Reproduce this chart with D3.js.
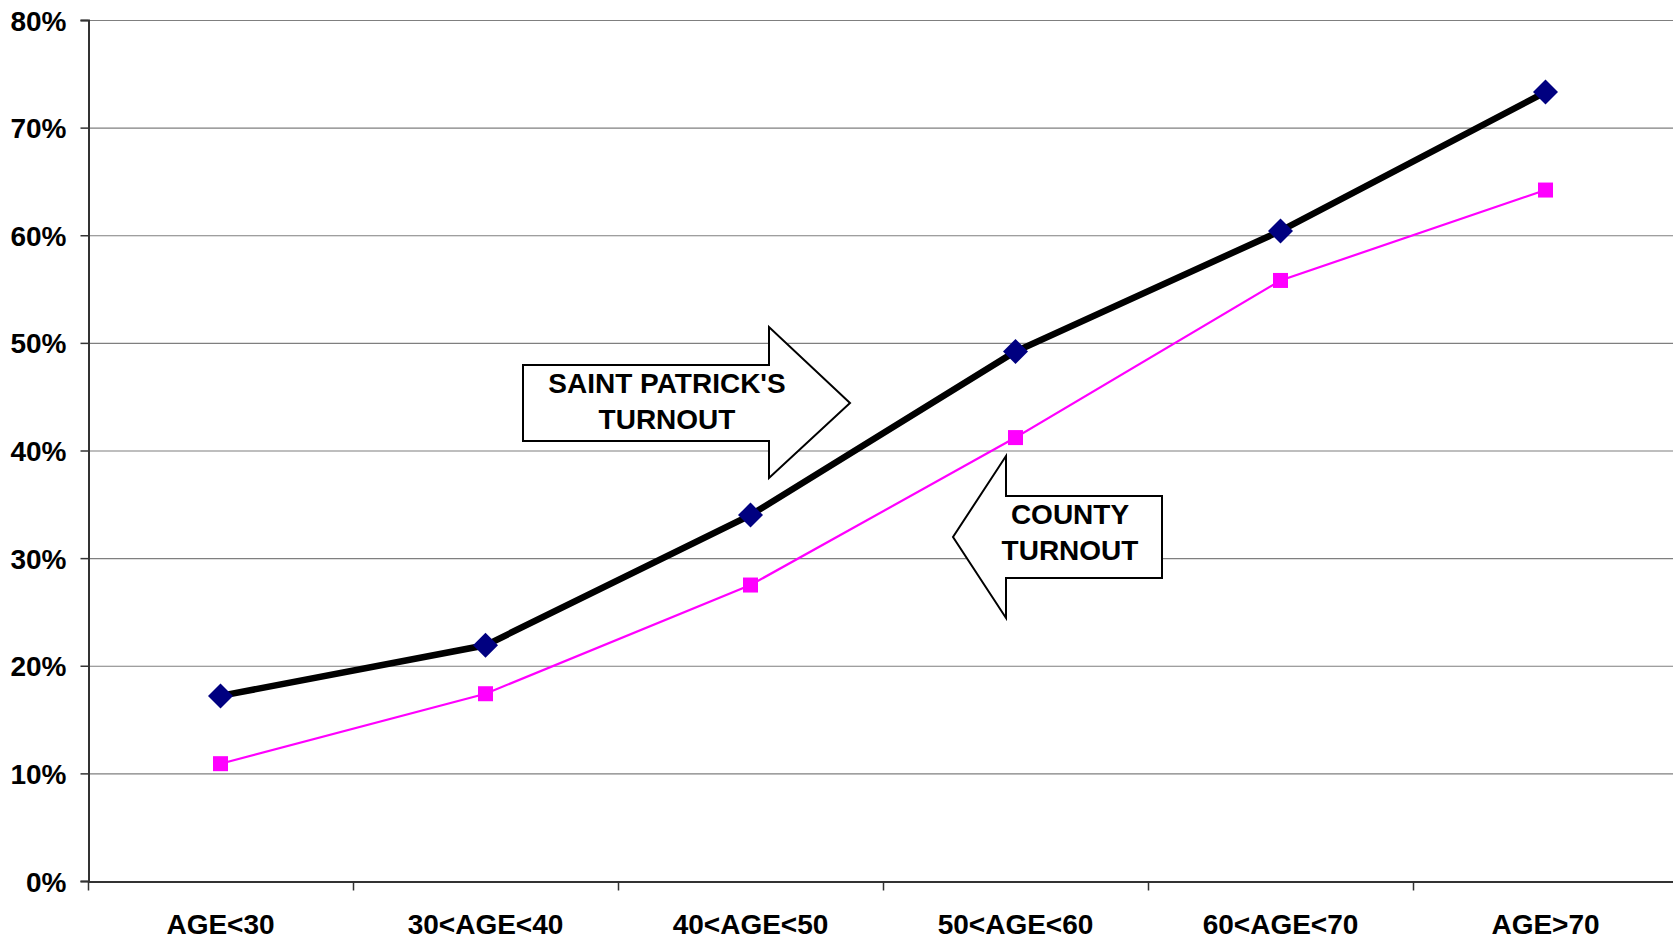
<!DOCTYPE html>
<html><head><meta charset="utf-8">
<script src="https://cdn.jsdelivr.net/npm/d3@7"></script>
<style>
html,body{margin:0;padding:0;background:#fff;}
text{font-family:"Liberation Sans",Arial,sans-serif;font-weight:bold;fill:#000;}
</style></head>
<body>
<svg id="chart" width="1673" height="939"></svg>
<script>
const categories = ["AGE<30","30<AGE<40","40<AGE<50","50<AGE<60","60<AGE<70","AGE>70"];
const saintPatrick = [0.172, 0.219, 0.340, 0.492, 0.604, 0.733];
const county = [0.109, 0.174, 0.275, 0.412, 0.558, 0.642];
const yTicks = [0,0.1,0.2,0.3,0.4,0.5,0.6,0.7,0.8];
const annotations = [
  {lines:["SAINT PATRICK'S","TURNOUT"], dir:"right"},
  {lines:["COUNTY","TURNOUT"], dir:"left"}
];

(function(){
const svg = d3.select("#chart");
const mLeft = 88, mRight = 1678, mTop = 20, mBottom = 881;
const FS = "28px";
const x = d3.scaleBand().domain(categories).range([mLeft,mRight]);
const y = d3.scaleLinear().domain([0,0.8]).range([mBottom,mTop]);

svg.append("g").selectAll("line").data(yTicks.filter(d=>d>0)).join("line")
  .attr("x1",mLeft).attr("x2",1673).attr("y1",d=>y(d)+0.5).attr("y2",d=>y(d)+0.5)
  .attr("stroke","#7f7f7f").attr("stroke-width",1.2);

const yAxis = d3.axisLeft(y).tickValues(yTicks).tickFormat(d3.format(".0%")).tickSize(8).tickPadding(14);
const gy = svg.append("g").attr("transform",`translate(${mLeft+0.5},0)`).call(yAxis);
gy.select(".domain").attr("stroke","#333").attr("stroke-width",2);
gy.selectAll(".tick line").attr("stroke","#333").attr("stroke-width",1.5);
gy.selectAll(".tick text").style("font-size",FS).attr("dy","0.36em");

const xAxis = d3.axisBottom(x).tickSize(0).tickPadding(33);
const gx = svg.append("g").attr("transform",`translate(0,${mBottom+0.5})`).call(xAxis);
gx.select(".domain").attr("stroke","#333").attr("stroke-width",2);
gx.selectAll(".tick text").style("font-size",FS).attr("dy","0.71em");
gx.append("g").selectAll("line").data(categories).join("line")
  .attr("x1",d=>x(d)+0.5).attr("x2",d=>x(d)+0.5).attr("y1",0).attr("y2",9)
  .attr("stroke","#333").attr("stroke-width",1.5);

function arrowRight(g, bx0, by0, bx1, by1, hy0, hy1, tipx){
  const tipy=(by0+by1)/2;
  g.append("path").attr("d",`M${bx0},${by0}L${bx1},${by0}L${bx1},${hy0}L${tipx},${tipy}L${bx1},${hy1}L${bx1},${by1}L${bx0},${by1}Z`)
   .attr("fill","#fff").attr("stroke","#000").attr("stroke-width",2);
}
function arrowLeft(g, bx0, by0, bx1, by1, hy0, hy1, tipx){
  const tipy=(by0+by1)/2;
  g.append("path").attr("d",`M${bx1},${by0}L${bx0},${by0}L${bx0},${hy0}L${tipx},${tipy}L${bx0},${hy1}L${bx0},${by1}L${bx1},${by1}Z`)
   .attr("fill","#fff").attr("stroke","#000").attr("stroke-width",2);
}
const ga = svg.append("g");
arrowRight(ga, 523, 365, 769, 441, 327, 478, 850);
ga.append("text").attr("x",667).attr("y",393).attr("text-anchor","middle").style("font-size",FS).text(annotations[0].lines[0]);
ga.append("text").attr("x",667).attr("y",429).attr("text-anchor","middle").style("font-size",FS).text(annotations[0].lines[1]);
arrowLeft(ga, 1006, 496, 1162, 578, 456, 618, 953);
ga.append("text").attr("x",1070).attr("y",524).attr("text-anchor","middle").style("font-size",FS).text(annotations[1].lines[0]);
ga.append("text").attr("x",1070).attr("y",560).attr("text-anchor","middle").style("font-size",FS).text(annotations[1].lines[1]);

const cx = d => x(d)+x.bandwidth()/2;
const line = d3.line().x(d=>cx(d[0])).y(d=>y(d[1]));

const cData = categories.map((c,i)=>[c,county[i]]);
svg.append("path").datum(cData).attr("d",line).attr("fill","none").attr("stroke","#ff00ff").attr("stroke-width",2.2);
svg.append("g").selectAll("rect").data(cData).join("rect")
  .attr("x",d=>cx(d[0])-7.5).attr("y",d=>y(d[1])-7.5).attr("width",15).attr("height",15).attr("fill","#ff00ff");

const sData = categories.map((c,i)=>[c,saintPatrick[i]]);
svg.append("path").datum(sData).attr("d",line).attr("fill","none").attr("stroke","#000").attr("stroke-width",6.5);
svg.append("g").selectAll("path").data(sData).join("path")
  .attr("d",d=>{const px=cx(d[0]),py=y(d[1]),r=12.5;return `M${px},${py-r}L${px+r},${py}L${px},${py+r}L${px-r},${py}Z`;})
  .attr("fill","#000080");
})();
</script>
</body></html>
